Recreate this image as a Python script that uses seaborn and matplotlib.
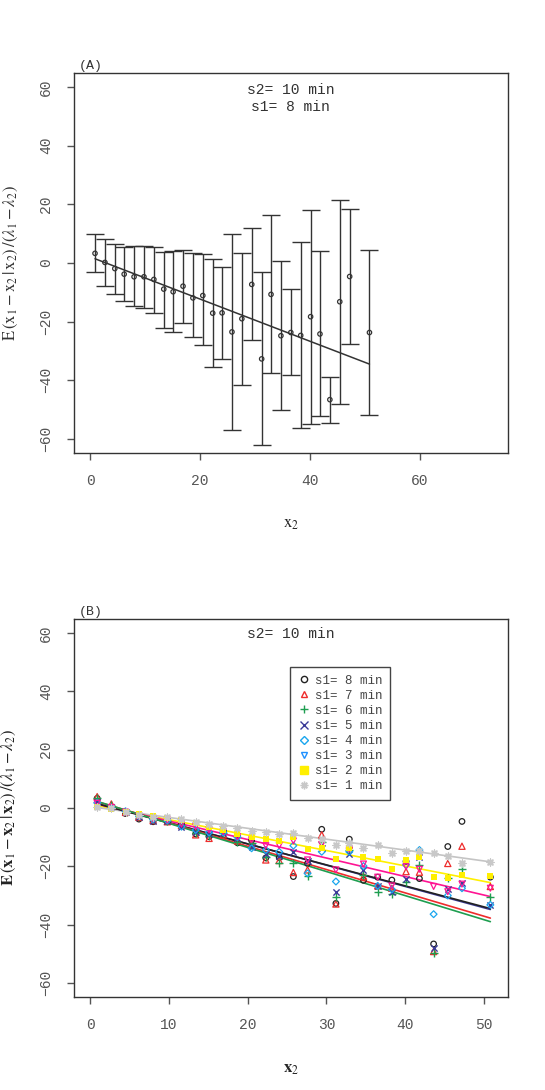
import pandas as pd
import matplotlib
matplotlib.use("Agg")
import matplotlib.pyplot as plt
from matplotlib.lines import Line2D
import seaborn as sns

# x2 positions (same for both panels)
x2 = [0.9, 2.7, 4.5, 6.2, 8.0, 9.8, 11.6, 13.4, 15.1, 16.9, 18.7, 20.5, 22.3, 24.0,
      25.8, 27.6, 29.4, 31.2, 32.9, 34.7, 36.5, 38.3, 40.1, 41.8, 43.6, 45.4, 47.2, 50.8]

# panel A: s2 = 10, s1 = 8 means with upper / lower bars
mean_a = [3.3, 0.2, -1.9, -3.8, -4.7, -4.7, -5.6, -8.9, -9.8, -7.9, -11.9, -11.1, -17.1, -17.0,
          -23.5, -19.0, -7.3, -32.7, -10.7, -24.8, -23.7, -24.7, -18.3, -24.2, -46.6, -13.2, -4.6, -23.7]
upper_a = [9.8, 8.2, 6.6, 5.4, 5.9, 5.9, 5.6, 3.9, 4.1, 4.4, 3.3, 3.0, 1.5, -1.3,
           10.0, 3.5, 11.9, -3.1, 16.4, 0.8, -8.9, 7.2, 18.2, 4.0, -38.9, 21.6, 18.4, 4.3]
lower_a = [-3.2, -7.9, -10.6, -13.0, -14.8, -15.4, -16.9, -22.0, -23.4, -20.3, -25.2, -27.9, -35.4, -32.6,
           -56.9, -41.6, -26.3, -62.2, -37.5, -50.3, -38.3, -56.4, -54.9, -52.1, -54.5, -48.0, -27.5, -51.7]
fit_a_int, fit_a_slope = 2.1, -0.72

# panel B: one series per s1
s1_labels = ["s1= 8 min", "s1= 7 min", "s1= 6 min", "s1= 5 min",
             "s1= 4 min", "s1= 3 min", "s1= 2 min", "s1= 1 min"]
y_s8 = mean_a
y_s7 = [3.9, 1.4, -1.5, -3.2, -4.3, -4.7, -6.0, -9.2, -10.4, -9.2, -11.3, -12.1, -17.8, -18.0,
        -22.1, -21.2, -9.2, -32.9, -12.7, -23.5, -26.7, -27.5, -21.8, -22.0, -49.2, -19.0, -13.1, -26.9]
y_s6 = [3.3, 1.0, -1.4, -2.7, -3.9, -4.3, -5.7, -8.4, -9.6, -8.7, -11.5, -11.9, -16.7, -18.9,
        -18.7, -23.2, -11.5, -30.4, -14.4, -22.9, -28.7, -29.5, -25.5, -19.5, -49.8, -24.1, -20.8, -30.6]
y_s5 = [2.2, 0.5, -1.3, -3.0, -4.3, -4.3, -6.5, -8.1, -8.9, -8.7, -10.4, -13.2, -15.8, -16.4,
        -15.0, -18.3, -13.8, -28.7, -15.8, -21.2, -26.9, -28.7, -24.3, -16.7, -48.1, -27.7, -25.6, -33.2]
y_s4 = [1.8, 0.2, -1.1, -2.7, -3.9, -4.3, -6.4, -7.5, -8.4, -8.4, -10.0, -13.8, -14.4, -15.0,
        -12.9, -22.4, -15.0, -25.2, -15.0, -19.9, -26.7, -27.9, -19.5, -14.4, -36.4, -30.0, -27.5, -33.2]
y_s3 = [1.6, 0.2, -1.4, -2.7, -3.7, -4.1, -5.5, -6.4, -7.5, -8.1, -9.8, -10.9, -12.9, -12.9,
        -11.3, -17.8, -12.5, -21.2, -14.0, -19.2, -23.7, -26.7, -20.1, -21.0, -26.9, -28.7, -26.1, -27.5]
y_s2 = [0.5, -0.5, -1.4, -2.1, -2.7, -3.5, -4.1, -5.3, -6.4, -7.5, -8.9, -9.8, -10.7, -11.2,
        -10.0, -14.2, -13.8, -17.6, -13.8, -16.9, -17.6, -21.0, -17.8, -16.7, -23.5, -24.1, -22.9, -23.3]
y_s1 = [0.2, -0.1, -1.3, -2.3, -3.2, -3.2, -3.8, -4.7, -5.5, -6.0, -7.0, -7.8, -8.1, -8.9,
        -8.7, -10.4, -10.5, -12.7, -11.9, -13.8, -12.7, -15.3, -14.7, -14.7, -15.3, -16.4, -18.7, -18.4]
series_b = [y_s8, y_s7, y_s6, y_s5, y_s4, y_s3, y_s2, y_s1]

# fitted lines (None = not visible)
fit_int = [2.1, 2.9, 3.0, 2.3, None, 1.9, 1.3, 0.5]
fit_slope = [-0.72, -0.80, -0.826, -0.73, None, -0.635, -0.529, -0.373]

point_colors = ["#222222", "#EE2C2C", "#1E9E50", "#3B3B98", "#1AA6EE", "#FF1493", "#FFEF00", "#C8C8C8"]
legend_colors = ["#222222", "#EE2C2C", "#1E9E50", "#3B3B98", "#1AA6EE", "#1E90FF", "#FFEF00", "#C8C8C8"]
markers = ["o", "^", "+", "x", "D", "v", "s", (8, 2, 0)]
open_marker = [True, True, False, False, True, True, False, False]
marker_sizes = [16, 20, 30, 20, 12, 18, 14, 24]

sns.set_style("white")
plt.rcParams["font.family"] = ["Liberation Mono", "DejaVu Sans"]
plt.rcParams["mathtext.fontset"] = "stix"

fig = plt.figure(figsize=(5.45, 10.9), dpi=100)
ax_a = fig.add_axes([0.1358, 0.5844, 0.7956, 0.3486])
ax_b = fig.add_axes([0.1358, 0.0853, 0.7963, 0.3468])

tick_col = "#555555"
for ax in (ax_a, ax_b):
    for sp in ax.spines.values():
        sp.set_color("#333333")
        sp.set_linewidth(1.0)
    ax.tick_params(axis="both", direction="out", length=5, width=1, color=tick_col,
                   labelsize=10.5, labelcolor="#555555", pad=10, left=True, bottom=True)
    ax.set_ylim(-64.8, 64.8)
    ax.set_yticks([-60, -40, -20, 0, 20, 40, 60])
    for lab in ax.get_yticklabels():
        lab.set_rotation(90)
        lab.set_va("center")

# ---- panel A ----
dfa = pd.DataFrame({"x2": x2, "mean": mean_a, "up": upper_a, "lo": lower_a})
ax_a.errorbar(dfa["x2"], dfa["mean"], yerr=[dfa["mean"] - dfa["lo"], dfa["up"] - dfa["mean"]],
              fmt="none", ecolor="#333333", elinewidth=1, capsize=6.5, capthick=1)
sns.scatterplot(data=dfa, x="x2", y="mean", ax=ax_a, marker="o", s=10,
                facecolors="none", edgecolor="#333333", linewidth=0.9, zorder=3)
fit_x = [x2[0], x2[-1]]
sns.lineplot(x=fit_x, y=[fit_a_int + fit_a_slope * v for v in fit_x], ax=ax_a,
             color="#333333", linewidth=1.1)
ax_a.set_xlim(-2.92, 75.92)
ax_a.set_xticks([0, 20, 40, 60])
ax_a.set_xlabel(r"$\mathrm{x}_2$", fontsize=12)
ax_a.set_ylabel(r"$\mathrm{E}\,(\mathrm{x}_1-\mathrm{x}_2\,|\,\mathrm{x}_2)\,/(\lambda_1-\lambda_2)$",
                fontsize=12, color="#333333")
ax_a.xaxis.set_label_coords(0.5, -0.168)
ax_a.yaxis.set_label_coords(-0.125, 0.5)
ax_a.text(0.5, 0.955, "s2= 10 min", transform=ax_a.transAxes, ha="center", va="center",
          fontsize=10.5, color="#333333")
ax_a.text(0.5, 0.91, "s1= 8 min", transform=ax_a.transAxes, ha="center", va="center",
          fontsize=10.5, color="#333333")
ax_a.text(0.012, 1.003, "(A)", transform=ax_a.transAxes, ha="left", va="bottom",
          fontsize=9.5, color="#333333")

# ---- panel B ----
for i in range(len(series_b)):
    d = pd.DataFrame({"x2": x2, "y": series_b[i]})
    col = point_colors[i]
    if open_marker[i]:
        sns.scatterplot(data=d, x="x2", y="y", ax=ax_b, marker=markers[i], s=marker_sizes[i],
                        facecolors="none", edgecolor=col, linewidth=0.9, zorder=3)
    elif markers[i] == "s":
        sns.scatterplot(data=d, x="x2", y="y", ax=ax_b, marker="s", s=marker_sizes[i],
                        color=col, edgecolor=col, linewidth=0, zorder=3)
    else:
        sns.scatterplot(data=d, x="x2", y="y", ax=ax_b, marker=markers[i], s=marker_sizes[i],
                        color=col, linewidth=1.0, zorder=3)

for i in [6, 7, 5, 3, 0, 1, 2]:
    if fit_int[i] is None:
        continue
    line_col = point_colors[i]
    if i == 7:
        line_col = "#C4C4C4"
    if i == 6:
        line_col = "#FFF000"
    sns.lineplot(x=fit_x, y=[fit_int[i] + fit_slope[i] * v for v in fit_x], ax=ax_b,
                 color=line_col, linewidth=1.2, zorder=2)

ax_b.set_xlim(-2.04, 53.04)
ax_b.set_xticks([0, 10, 20, 30, 40, 50])
ax_b.set_xlabel(r"$\mathbf{x}_2$", fontsize=12)
ax_b.set_ylabel(r"$\mathbf{E}\,(\mathbf{x}_1-\mathbf{x}_2\,|\,\mathbf{x}_2)\,/(\lambda_1-\lambda_2)$",
                fontsize=12, color="#222222")
ax_b.xaxis.set_label_coords(0.5, -0.172)
ax_b.yaxis.set_label_coords(-0.128, 0.5)
ax_b.text(0.5, 0.96, "s2= 10 min", transform=ax_b.transAxes, ha="center", va="center",
          fontsize=10.5, color="#333333")
ax_b.text(0.012, 1.003, "(B)", transform=ax_b.transAxes, ha="left", va="bottom",
          fontsize=9.5, color="#333333")

handles = []
for i in range(len(s1_labels)):
    col = legend_colors[i]
    if open_marker[i]:
        h = Line2D([], [], linestyle="none", marker=markers[i], markersize=4.5,
                   markerfacecolor="none", markeredgecolor=col, markeredgewidth=1.0)
    else:
        h = Line2D([], [], linestyle="none", marker=markers[i], markersize=5.5,
                   markerfacecolor=col, markeredgecolor=col, markeredgewidth=1.0)
    handles.append(h)
leg = ax_b.legend(handles, s1_labels, loc="upper left", bbox_to_anchor=(0.498, 0.873),
                  borderaxespad=0, fancybox=False, framealpha=1, fontsize=9,
                  labelspacing=0.25, handletextpad=0.4, handlelength=1.0,
                  borderpad=0.6, labelcolor="#444444")
leg.get_frame().set_edgecolor("#444444")
leg.get_frame().set_linewidth(1.0)

fig.savefig("out.png", dpi=100)
